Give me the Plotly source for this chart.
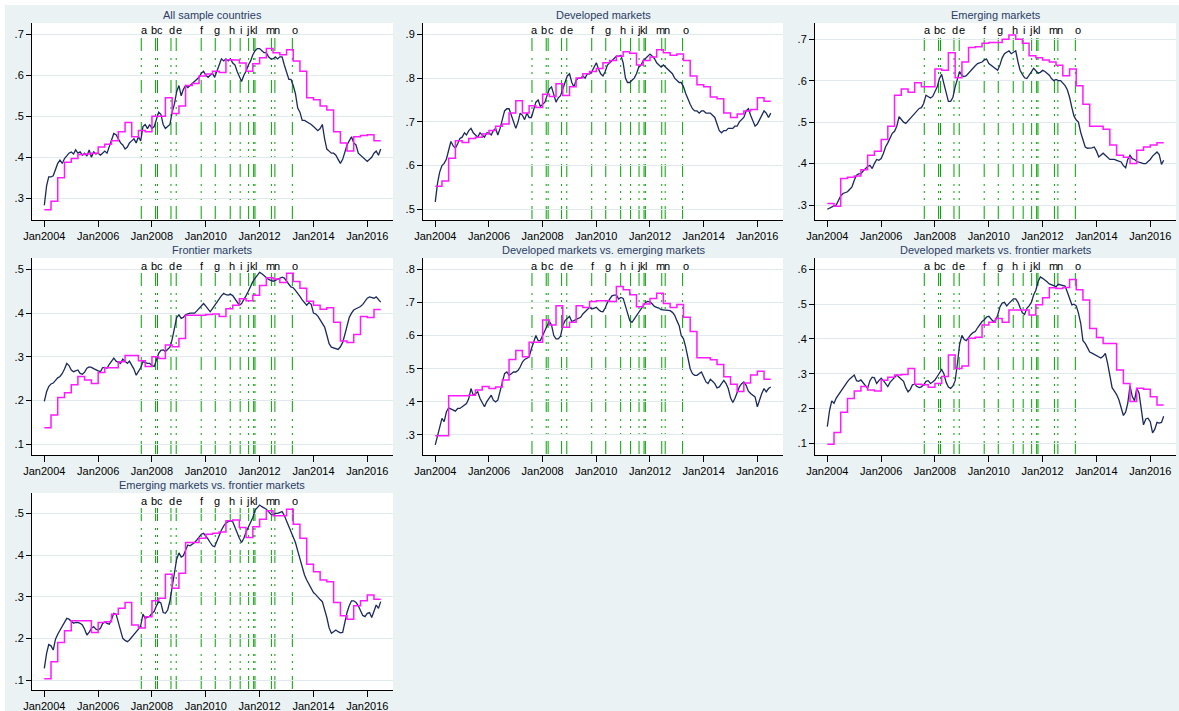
import pandas as pd
import plotly.graph_objects as go

W, H = 1179, 711

# ---------------- data ----------------
titles = ["All sample countries", "Developed markets", "Emerging markets",
          "Frontier markets", "Developed markets vs. emerging markets",
          "Developed markets vs. frontier markets",
          "Emerging markets vs. frontier markets"]

months = pd.date_range("2004-01-01", periods=151, freq="MS")      # weekly series, read monthly
quarters = pd.date_range("2004-01-01", periods=50, freq="QS")     # step series
step_end = pd.Timestamp("2016-07-01")

event_letters = list("abcdefghijklmno")
event_dates = ["2007-08-09", "2008-02-19", "2008-03-16", "2008-09-15", "2008-11-25",
               "2009-10-30", "2010-05-09", "2010-11-28", "2011-04-12", "2011-08-05",
               "2011-10-12", "2011-10-30", "2012-06-09", "2012-07-26", "2013-03-20"]

x_ticks_start = "2004-01-01"

all_line = [
    0.283, 0.33, 0.352, 0.352, 0.355, 0.37, 0.385, 0.393, 0.385, 0.397, 0.405, 0.41,
    0.413, 0.408, 0.418, 0.41, 0.413, 0.405, 0.41, 0.403, 0.418, 0.40, 0.413, 0.408,
    0.41, 0.405, 0.41, 0.415, 0.41, 0.425, 0.44, 0.458, 0.455, 0.445, 0.435, 0.43,
    0.42, 0.425, 0.435, 0.44, 0.445, 0.435, 0.45, 0.44, 0.475, 0.48, 0.47, 0.48,
    0.47, 0.475, 0.49, 0.51, 0.505, 0.48, 0.47, 0.475, 0.48, 0.51, 0.53, 0.56,
    0.575, 0.55, 0.565, 0.575, 0.57, 0.575, 0.58, 0.585, 0.59, 0.595, 0.605, 0.61,
    0.60, 0.595, 0.60, 0.605, 0.595, 0.61, 0.625, 0.64, 0.635, 0.64, 0.635, 0.64,
    0.63, 0.625, 0.61, 0.595, 0.585, 0.60, 0.61, 0.625, 0.635, 0.65, 0.66, 0.665,
    0.665, 0.66, 0.655, 0.655, 0.645, 0.64, 0.64, 0.645, 0.64, 0.645, 0.645, 0.625,
    0.61, 0.59, 0.59, 0.575, 0.555, 0.52, 0.51, 0.49, 0.49, 0.487, 0.485, 0.48,
    0.475, 0.47, 0.465, 0.47, 0.48, 0.445, 0.42, 0.415, 0.41, 0.41, 0.405, 0.395,
    0.385, 0.395, 0.415, 0.43, 0.44, 0.45, 0.435, 0.43, 0.41, 0.405, 0.40, 0.395,
    0.39, 0.395, 0.40, 0.41, 0.415, 0.405, 0.42]
all_step = [
    0.272, 0.293, 0.35, 0.388, 0.397, 0.407, 0.408, 0.41, 0.425, 0.432, 0.44, 0.462,
    0.485, 0.45, 0.465, 0.462, 0.50, 0.50, 0.545, 0.507, 0.525, 0.575, 0.58, 0.598,
    0.603, 0.61, 0.607, 0.638, 0.637, 0.63, 0.61, 0.628, 0.643, 0.665, 0.655, 0.65,
    0.662, 0.635, 0.61, 0.545, 0.54, 0.525, 0.515, 0.462, 0.435, 0.415, 0.45, 0.453,
    0.455, 0.44]

dm_line = [
    0.517, 0.56, 0.585, 0.60, 0.605, 0.615, 0.635, 0.655, 0.645, 0.64, 0.65, 0.662,
    0.665, 0.675, 0.67, 0.68, 0.685, 0.675, 0.67, 0.665, 0.675, 0.67, 0.665, 0.675,
    0.675, 0.67, 0.68, 0.685, 0.67, 0.685, 0.705, 0.725, 0.73, 0.73, 0.715, 0.70,
    0.685, 0.70, 0.72, 0.715, 0.705, 0.72, 0.71, 0.71, 0.73, 0.745, 0.75, 0.735,
    0.74, 0.745, 0.76, 0.775, 0.78, 0.76, 0.745, 0.755, 0.76, 0.775, 0.79, 0.805,
    0.81, 0.79, 0.78, 0.795, 0.80, 0.80, 0.805, 0.80, 0.81, 0.81, 0.815, 0.825,
    0.835, 0.82, 0.81, 0.805, 0.815, 0.83, 0.835, 0.84, 0.845, 0.85, 0.85, 0.852,
    0.835, 0.80, 0.79, 0.79, 0.795, 0.80, 0.81, 0.825, 0.83, 0.84, 0.845, 0.85,
    0.855, 0.85, 0.845, 0.835, 0.83, 0.825, 0.83, 0.825, 0.82, 0.815, 0.81, 0.80,
    0.795, 0.79, 0.79, 0.78, 0.765, 0.75, 0.74, 0.73, 0.725, 0.725, 0.72, 0.725,
    0.725, 0.72, 0.72, 0.72, 0.715, 0.71, 0.695, 0.68, 0.675, 0.68, 0.68, 0.685,
    0.685, 0.685, 0.69, 0.69, 0.70, 0.705, 0.71, 0.725, 0.73, 0.715, 0.70, 0.69,
    0.695, 0.705, 0.715, 0.725, 0.72, 0.71, 0.72]
dm_step = [
    0.553, 0.565, 0.617, 0.657, 0.653, 0.662, 0.665, 0.672, 0.68, 0.69, 0.695, 0.72,
    0.748, 0.72, 0.737, 0.733, 0.763, 0.758, 0.787, 0.76, 0.78, 0.80, 0.81, 0.815,
    0.822, 0.835, 0.84, 0.85, 0.86, 0.857, 0.83, 0.84, 0.848, 0.865, 0.858, 0.852,
    0.855, 0.84, 0.805, 0.785, 0.78, 0.757, 0.753, 0.72, 0.71, 0.718, 0.725, 0.728,
    0.755, 0.747]

em_line = [
    0.29, 0.293, 0.297, 0.298, 0.30, 0.31, 0.322, 0.328, 0.33, 0.332, 0.338, 0.344,
    0.36, 0.372, 0.375, 0.376, 0.382, 0.388, 0.393, 0.396, 0.388, 0.40, 0.41, 0.408,
    0.412, 0.425, 0.44, 0.45, 0.46, 0.473, 0.478, 0.49, 0.513, 0.507, 0.50, 0.497,
    0.503, 0.51, 0.517, 0.522, 0.528, 0.533, 0.535, 0.545, 0.565, 0.562, 0.558, 0.562,
    0.575, 0.585, 0.605, 0.615, 0.593, 0.572, 0.55, 0.55, 0.56, 0.585, 0.605, 0.622,
    0.612, 0.61, 0.612, 0.618, 0.625, 0.632, 0.636, 0.641, 0.643, 0.645, 0.65, 0.652,
    0.641, 0.637, 0.633, 0.628, 0.625, 0.638, 0.655, 0.665, 0.668, 0.672, 0.665, 0.668,
    0.672, 0.645, 0.625, 0.615, 0.607, 0.605, 0.612, 0.621, 0.63, 0.625, 0.618, 0.62,
    0.625, 0.622, 0.618, 0.613, 0.605, 0.60, 0.603, 0.60, 0.60, 0.595, 0.588, 0.578,
    0.56, 0.535, 0.515, 0.505, 0.50, 0.475, 0.455, 0.44, 0.437, 0.437, 0.438, 0.44,
    0.43, 0.416, 0.42, 0.425, 0.42, 0.416, 0.41, 0.41, 0.41, 0.408, 0.406, 0.404,
    0.395, 0.39, 0.41, 0.42, 0.412, 0.41, 0.405, 0.404, 0.402, 0.40, 0.40, 0.405,
    0.41, 0.418, 0.423, 0.428, 0.422, 0.398, 0.408]
em_step = [
    0.304, 0.297, 0.364, 0.367, 0.37, 0.385, 0.42, 0.43, 0.458, 0.49, 0.565, 0.58,
    0.572, 0.595, 0.585, 0.585, 0.628, 0.625, 0.667, 0.607, 0.645, 0.68, 0.682, 0.69,
    0.692, 0.692, 0.70, 0.71, 0.70, 0.69, 0.66, 0.655, 0.65, 0.645, 0.637, 0.612,
    0.628, 0.588, 0.543, 0.49, 0.49, 0.483, 0.445, 0.42, 0.415, 0.40, 0.432, 0.44,
    0.445, 0.45]

fm_line = [
    0.198, 0.22, 0.232, 0.238, 0.24, 0.247, 0.252, 0.255, 0.262, 0.272, 0.285, 0.28,
    0.27, 0.266, 0.268, 0.27, 0.262, 0.26, 0.265, 0.274, 0.277, 0.276, 0.273, 0.27,
    0.268, 0.266, 0.275, 0.276, 0.274, 0.283, 0.29, 0.297, 0.29, 0.287, 0.285, 0.295,
    0.29, 0.285, 0.29, 0.282, 0.272, 0.258, 0.265, 0.275, 0.289, 0.287, 0.285, 0.285,
    0.28, 0.278, 0.295, 0.308, 0.315, 0.316, 0.312, 0.318, 0.322, 0.34, 0.37, 0.39,
    0.396, 0.388, 0.39, 0.396, 0.398, 0.40, 0.40, 0.40, 0.405, 0.41, 0.415, 0.422,
    0.416, 0.41, 0.403, 0.41, 0.418, 0.426, 0.434, 0.44, 0.445, 0.442, 0.441, 0.443,
    0.44, 0.432, 0.424, 0.418, 0.422, 0.43, 0.44, 0.45, 0.462, 0.472, 0.48, 0.487,
    0.493, 0.49, 0.486, 0.48, 0.477, 0.475, 0.473, 0.475, 0.477, 0.479, 0.482, 0.48,
    0.472, 0.466, 0.46, 0.458, 0.452, 0.446, 0.438, 0.43, 0.424, 0.418, 0.424, 0.42,
    0.40, 0.398, 0.393, 0.384, 0.378, 0.368, 0.35, 0.33, 0.322, 0.32, 0.318, 0.317,
    0.323, 0.333, 0.35, 0.373, 0.39, 0.40, 0.407, 0.41, 0.412, 0.415, 0.42, 0.428,
    0.434, 0.437, 0.435, 0.434, 0.437, 0.43, 0.425]
fm_step = [
    0.138, 0.167, 0.207, 0.218, 0.236, 0.255, 0.247, 0.239, 0.264, 0.275, 0.275, 0.289,
    0.303, 0.303, 0.291, 0.278, 0.30, 0.296, 0.327, 0.323, 0.342, 0.395, 0.395, 0.395,
    0.397, 0.398, 0.392, 0.41, 0.418, 0.433, 0.428, 0.441, 0.463, 0.481, 0.478, 0.47,
    0.491, 0.472, 0.457, 0.427, 0.418, 0.409, 0.412, 0.379, 0.336, 0.333, 0.351, 0.392,
    0.39, 0.408]

dm_em_line = [
    0.27, 0.30, 0.325, 0.35, 0.34, 0.37, 0.382, 0.378, 0.375, 0.372, 0.38, 0.38,
    0.385, 0.39, 0.395, 0.41, 0.44, 0.42, 0.425, 0.43, 0.41, 0.395, 0.385, 0.40,
    0.41, 0.42, 0.405, 0.40, 0.405, 0.435, 0.46, 0.485, 0.49, 0.48, 0.485, 0.49,
    0.49, 0.495, 0.505, 0.52, 0.528, 0.532, 0.535, 0.56, 0.58, 0.60, 0.585, 0.585,
    0.60, 0.615, 0.632, 0.643, 0.632, 0.60, 0.59, 0.59, 0.598, 0.63, 0.645, 0.652,
    0.658, 0.642, 0.645, 0.65, 0.652, 0.655, 0.665, 0.672, 0.68, 0.685, 0.68, 0.683,
    0.685, 0.678, 0.673, 0.672, 0.683, 0.70, 0.71, 0.72, 0.722, 0.722, 0.71, 0.715,
    0.712, 0.69, 0.665, 0.645, 0.64, 0.65, 0.66, 0.672, 0.68, 0.69, 0.70, 0.703,
    0.702, 0.695, 0.688, 0.685, 0.683, 0.678, 0.677, 0.677, 0.676, 0.675, 0.67, 0.662,
    0.645, 0.63, 0.60, 0.59, 0.565, 0.53, 0.50, 0.485, 0.48, 0.48, 0.485, 0.49,
    0.475, 0.46, 0.455, 0.468, 0.462, 0.455, 0.442, 0.445, 0.455, 0.465, 0.455, 0.44,
    0.412, 0.398, 0.41, 0.43, 0.445, 0.455, 0.46, 0.45, 0.432, 0.425, 0.42, 0.415,
    0.385, 0.41, 0.425, 0.44, 0.43, 0.44, 0.445]
dm_em_step = [
    0.298, 0.298, 0.418, 0.418, 0.418, 0.42, 0.436, 0.446, 0.44, 0.445, 0.466, 0.528,
    0.555, 0.536, 0.58, 0.58, 0.647, 0.632, 0.69, 0.625, 0.64, 0.69, 0.685, 0.703,
    0.705, 0.705, 0.703, 0.748, 0.738, 0.723, 0.687, 0.695, 0.712, 0.728, 0.697, 0.685,
    0.694, 0.655, 0.612, 0.533, 0.533, 0.527, 0.513, 0.476, 0.453, 0.431, 0.457, 0.481,
    0.492, 0.468]

dm_fm_line = [
    0.148, 0.195, 0.222, 0.215, 0.23, 0.24, 0.248, 0.258, 0.268, 0.277, 0.285, 0.29,
    0.296, 0.28, 0.278, 0.282, 0.275, 0.265, 0.258, 0.28, 0.29, 0.288, 0.272, 0.28,
    0.287, 0.28, 0.27, 0.263, 0.275, 0.282, 0.29, 0.296, 0.29, 0.285, 0.278, 0.26,
    0.248, 0.255, 0.268, 0.27, 0.263, 0.26, 0.262, 0.268, 0.278, 0.28, 0.272, 0.276,
    0.282, 0.292, 0.30, 0.312, 0.30, 0.275, 0.262, 0.258, 0.265, 0.28, 0.33, 0.385,
    0.41, 0.398, 0.395, 0.405, 0.412, 0.418, 0.421, 0.432, 0.443, 0.45, 0.455, 0.463,
    0.465, 0.457, 0.45, 0.453, 0.468, 0.492, 0.503, 0.505, 0.495, 0.502, 0.508, 0.515,
    0.515, 0.505, 0.49, 0.475, 0.47, 0.488, 0.495, 0.505, 0.526, 0.54, 0.565, 0.578,
    0.574, 0.57, 0.564, 0.558, 0.555, 0.552, 0.55, 0.557, 0.556, 0.555, 0.552, 0.535,
    0.515, 0.498, 0.50, 0.495, 0.474, 0.445, 0.395, 0.387, 0.375, 0.362, 0.359, 0.356,
    0.352, 0.349, 0.345, 0.35, 0.358, 0.33, 0.292, 0.26, 0.25, 0.24, 0.225, 0.205,
    0.18, 0.19, 0.215, 0.265, 0.235, 0.222, 0.258, 0.245, 0.20, 0.153, 0.17, 0.172,
    0.162, 0.13, 0.14, 0.16, 0.158, 0.16, 0.178]
dm_fm_step = [
    0.097, 0.131, 0.189, 0.229, 0.25, 0.263, 0.253, 0.25, 0.281, 0.29, 0.296, 0.298,
    0.315, 0.27, 0.268, 0.261, 0.272, 0.292, 0.354, 0.315, 0.322, 0.402, 0.405, 0.44,
    0.448, 0.459, 0.448, 0.483, 0.483, 0.483, 0.469, 0.498, 0.518, 0.547, 0.545, 0.548,
    0.571, 0.541, 0.512, 0.43, 0.404, 0.387, 0.387, 0.311, 0.272, 0.22, 0.258, 0.255,
    0.234, 0.21]

em_fm_line = [
    0.128, 0.164, 0.185, 0.182, 0.172, 0.198, 0.21, 0.22, 0.228, 0.24, 0.248, 0.246,
    0.24, 0.236, 0.238, 0.238, 0.236, 0.232, 0.222, 0.208, 0.215, 0.224, 0.228, 0.222,
    0.22, 0.224, 0.235, 0.24, 0.236, 0.234, 0.245, 0.26, 0.258, 0.24, 0.222, 0.20,
    0.195, 0.192, 0.196, 0.202, 0.208, 0.215, 0.222, 0.23, 0.258, 0.248, 0.25, 0.253,
    0.26, 0.265, 0.278, 0.288, 0.285, 0.262, 0.26, 0.268, 0.29, 0.322, 0.355, 0.39,
    0.405, 0.395, 0.398, 0.41, 0.424, 0.422, 0.425, 0.43, 0.436, 0.442, 0.45, 0.452,
    0.446, 0.438, 0.43, 0.422, 0.42, 0.435, 0.45, 0.46, 0.47, 0.477, 0.48, 0.482,
    0.48, 0.466, 0.452, 0.44, 0.43, 0.44, 0.455, 0.468, 0.478, 0.49, 0.508, 0.515,
    0.52, 0.516, 0.514, 0.51, 0.504, 0.498, 0.497, 0.50, 0.50, 0.502, 0.504, 0.495,
    0.482, 0.47, 0.46, 0.445, 0.43, 0.41, 0.39, 0.37, 0.352, 0.34, 0.33, 0.322,
    0.31, 0.305, 0.298, 0.293, 0.288, 0.27, 0.25, 0.225, 0.212, 0.216, 0.22, 0.216,
    0.213, 0.214, 0.24, 0.262, 0.278, 0.29, 0.29, 0.286, 0.278, 0.265, 0.255, 0.252,
    0.26, 0.262, 0.25, 0.265, 0.28, 0.272, 0.288]
em_fm_step = [
    0.103, 0.144, 0.19, 0.218, 0.242, 0.242, 0.242, 0.214, 0.238, 0.24, 0.258, 0.272,
    0.286, 0.232, 0.225, 0.252, 0.29, 0.296, 0.354, 0.32, 0.356, 0.43, 0.43, 0.44,
    0.45, 0.452, 0.455, 0.482, 0.484, 0.466, 0.442, 0.468, 0.486, 0.506, 0.494, 0.494,
    0.51, 0.474, 0.44, 0.378, 0.36, 0.34, 0.336, 0.286, 0.254, 0.246, 0.278, 0.29,
    0.304, 0.294]

lines = [all_line, dm_line, em_line, fm_line, dm_em_line, dm_fm_line, em_fm_line]
steps = [all_step, dm_step, em_step, fm_step, dm_em_step, dm_fm_step, em_fm_step]
y_tickvals = [[.3, .4, .5, .6, .7], [.5, .6, .7, .8, .9], [.3, .4, .5, .6, .7],
              [.1, .2, .3, .4, .5], [.3, .4, .5, .6, .7, .8], [.1, .2, .3, .4, .5, .6],
              [.1, .2, .3, .4, .5]]

# ---------------- style / layout ----------------
y_ranges = [[0.247, 0.7275], [0.4756, 0.926], [0.264, 0.739], [0.0755, 0.526],
            [0.2396, 0.834], [0.0664, 0.6325], [0.076, 0.5488]]
x_range = ["2003-07-18", "2016-12-15"]
col_px = [(32, 393), (423, 783), (815, 1176)]
row_px = [(23, 220), (258, 455), (493, 690)]
letter_shift = [3, -2, 3, 1, 3, 1, 2, 2, 1, -1, -1, 1, -1, 2, 3]

BG = "#EAF2F3"
NAVY = "#1b2a5c"
MAG = "#ff1aff"
GREEN = "rgb(0,165,0)"
FONT = "Arial, Liberation Sans, sans-serif"
DASH = "13px,7px,2px,5px,2px,5px,2px,6px"

fig = go.Figure()
layout = {}
shapes = []
annotations = []

for i in range(7):
    r, c = divmod(i, 3)
    n = "" if i == 0 else str(i + 1)
    xa, ya = "x" + n, "y" + n
    x0, x1 = col_px[c]
    t0, t1 = row_px[r]
    ph = t1 - t0

    layout["xaxis" + n] = dict(
        domain=[x0 / W, x1 / W], anchor=ya, type="date", range=x_range,
        tick0=x_ticks_start, dtick="M24", tickformat="%b%Y", automargin=False,
        showline=True, linecolor="#000000", linewidth=1, mirror=False,
        ticks="outside", ticklen=6, tickcolor="#000000", tickwidth=1,
        showgrid=False, zeroline=False,
        tickfont=dict(family=FONT, size=11, color="#000000"))
    layout["yaxis" + n] = dict(
        domain=[1 - t1 / H, 1 - t0 / H], anchor=xa, range=y_ranges[i], automargin=False,
        tickmode="array", tickvals=y_tickvals[i],
        ticktext=[("%.1f" % v).lstrip("0") for v in y_tickvals[i]],
        showline=True, linecolor="#000000", linewidth=1,
        ticks="outside", ticklen=5, tickcolor="#000000", tickwidth=1,
        showgrid=True, gridcolor="#E0EAED", gridwidth=1, zeroline=False,
        tickfont=dict(family=FONT, size=11, color="#000000"))

    # event lines
    for d in event_dates:
        shapes.append(dict(type="line", xref=xa, yref=ya + " domain",
                           x0=d, x1=d, y0=1 - 15 / ph, y1=0, layer="below",
                           line=dict(color=GREEN, width=1, dash=DASH)))
    for L, d, s in zip(event_letters, event_dates, letter_shift):
        annotations.append(dict(text=L, x=d, y=1, xref=xa, yref=ya + " domain",
                                yshift=-7.5, xshift=s, showarrow=False,
                                xanchor="center", yanchor="middle",
                                font=dict(family=FONT, size=11, color="#000000")))
    # panel title
    annotations.append(dict(text=titles[i], x=0.5, y=1, xref=xa + " domain",
                            yref=ya + " domain", yshift=8, showarrow=False,
                            xanchor="center", yanchor="middle",
                            font=dict(family=FONT, size=11, color="#2a3d66")))

    fig.add_trace(go.Scatter(x=months, y=lines[i], xaxis=xa, yaxis=ya, mode="lines",
                             line=dict(color=NAVY, width=1.3), showlegend=False,
                             hoverinfo="skip"))
    fig.add_trace(go.Scatter(x=list(quarters) + [step_end], y=steps[i] + [steps[i][-1]],
                             xaxis=xa, yaxis=ya, mode="lines", line_shape="hv",
                             line=dict(color=MAG, width=1.5), showlegend=False,
                             hoverinfo="skip"))

# thin white frame on top/left of the canvas
shapes.append(dict(type="rect", xref="paper", yref="paper", x0=0, x1=5 / W, y0=0, y1=1,
                   fillcolor="white", line=dict(width=0), layer="above"))
shapes.append(dict(type="rect", xref="paper", yref="paper", x0=0, x1=1, y0=1 - 5 / H, y1=1,
                   fillcolor="white", line=dict(width=0), layer="above"))

fig.update_layout(width=W, height=H,
                  margin=dict(l=0, r=0, t=0, b=0, pad=0, autoexpand=False),
                  paper_bgcolor=BG, plot_bgcolor="white",
                  font=dict(family=FONT, size=11, color="#000000"),
                  shapes=shapes, annotations=annotations, showlegend=False, **layout)

fig.write_html("out.html", config={"displayModeBar": False},
               post_script="document.body.style.margin='0px';document.body.style.overflow='hidden';")
